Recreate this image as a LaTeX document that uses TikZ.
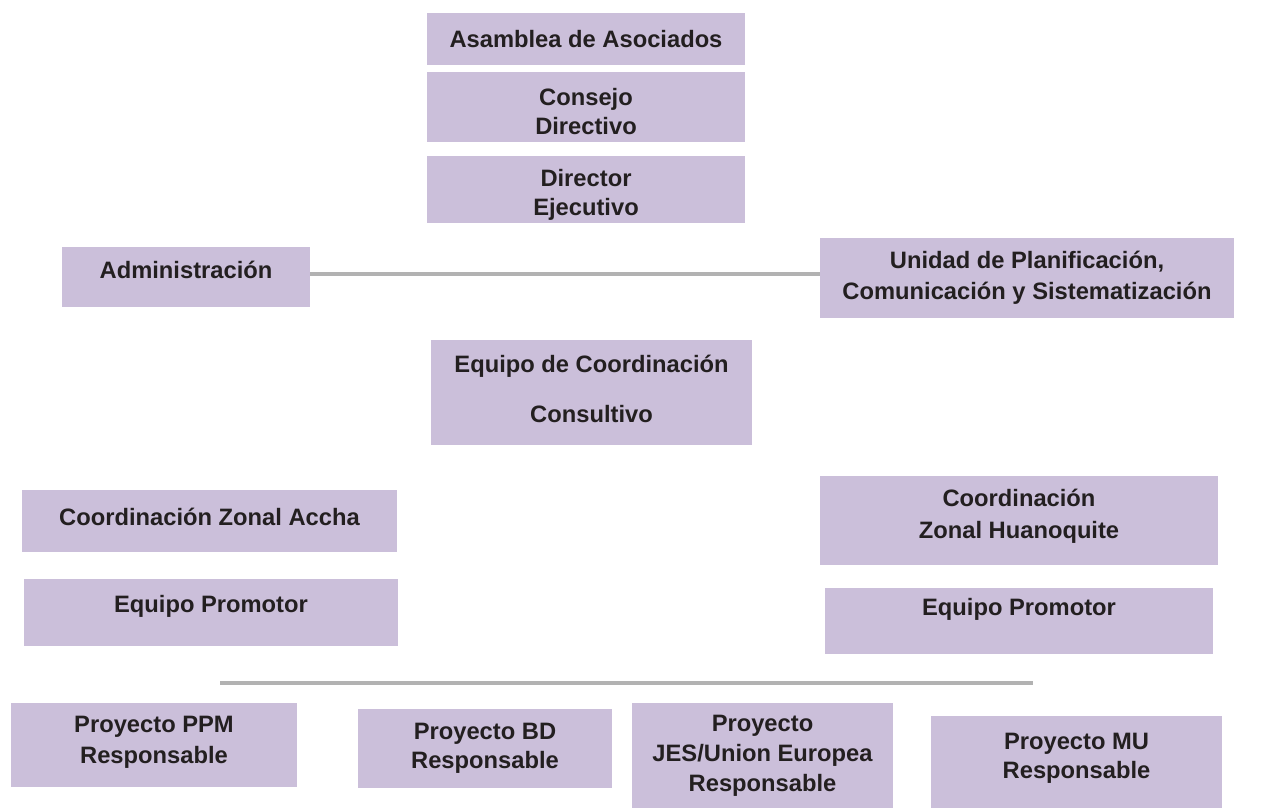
\documentclass[tikz,border=0pt]{standalone}
\usepackage{fontspec}
\setmainfont{Liberation Sans}
\definecolor{orgfill}{RGB}{203,191,218}
\definecolor{orgline}{RGB}{178,178,178}
\definecolor{orgtext}{RGB}{35,31,32}
\newcommand{\orgstrut}[2]{\rule[-#2]{0pt}{\dimexpr#1+#2\relax}}

\begin{document}
\begin{tikzpicture}[
		orgbox/.style={fill=orgfill, text=orgtext, align=center, inner sep=0pt, font=\bfseries\fontsize{13.5}{16.5}\selectfont},
		orgrule/.style={draw=orgline, line width=2.2pt}
	]
				\useasboundingbox (0,0) rectangle (25.24,-16.16);
				
				\node[orgbox, minimum width=6.36cm, minimum height=1.04cm] (asamblea) at (11.72,-0.78) {Asamblea de Asociados};
				\node[orgbox, minimum width=6.36cm, minimum height=1.40cm] (consejo) at (11.72,-2.14) {\orgstrut{15pt}{0pt}Consejo\\Directivo};
				\node[orgbox, minimum width=6.36cm, minimum height=1.34cm] (director) at (11.72,-3.79) {\orgstrut{15.5pt}{0pt}Director\\Ejecutivo};
				
				\node[orgbox, minimum width=4.96cm, minimum height=1.20cm] (admin) at (3.72,-5.54) {Administraci\'on\orgstrut{0pt}{8pt}};
				\node[orgbox, minimum width=8.28cm, minimum height=1.60cm] (unidad) at (20.54,-5.56) {Unidad de Planificaci\'on,\\[1pt]Comunicaci\'on y Sistematizaci\'on};
				\draw[orgrule] ([yshift=1.7pt]admin.east) -- ([yshift=1.7pt]admin.east -| unidad.west);
				
				\node[orgbox, minimum width=6.42cm, minimum height=2.10cm] (consultivo) at (11.83,-7.85) {Equipo de Coordinaci\'on\\[12pt]Consultivo\orgstrut{0pt}{4.6pt}};
				
				\node[orgbox, minimum width=7.50cm, minimum height=1.24cm] (accha) at (4.19,-10.42) {Coordinaci\'on Zonal Accha\orgstrut{0pt}{4.6pt}};
				\node[orgbox, minimum width=7.48cm, minimum height=1.34cm] (promotorA) at (4.22,-12.25) {Equipo Promotor\orgstrut{0pt}{10.2pt}};
				
				\node[orgbox, minimum width=7.96cm, minimum height=1.78cm] (huanoquite) at (20.38,-10.41) {Coordinaci\'on\\[1.5pt]Zonal Huanoquite\orgstrut{0pt}{7.4pt}};
				\node[orgbox, minimum width=7.76cm, minimum height=1.32cm] (promotorH) at (20.38,-12.42) {Equipo Promotor\orgstrut{0pt}{16.6pt}};
				
				\coordinate (ruleL) at (4.40,-13.66);
				\coordinate (ruleR) at (20.66,-13.66);
				\draw[orgrule] (ruleL) -- (ruleR);
				
				\node[orgbox, minimum width=5.72cm, minimum height=1.68cm] (ppm) at (3.08,-14.90) {Proyecto PPM\\[1pt]Responsable\orgstrut{0pt}{5.5pt}};
				\node[orgbox, minimum width=5.08cm, minimum height=1.58cm] (bd) at (9.70,-14.97) {Proyecto BD\\Responsable};
				\node[orgbox, minimum width=5.22cm, minimum height=2.10cm] (jes) at (15.25,-15.11) {Proyecto\\[0.5pt]JES/Union Europea\\[0.5pt]Responsable};
				\node[orgbox, minimum width=5.82cm, minimum height=1.84cm] (mu) at (21.53,-15.24) {Proyecto MU\\Responsable\orgstrut{0pt}{6.5pt}};
			\end{tikzpicture}
\end{document}
